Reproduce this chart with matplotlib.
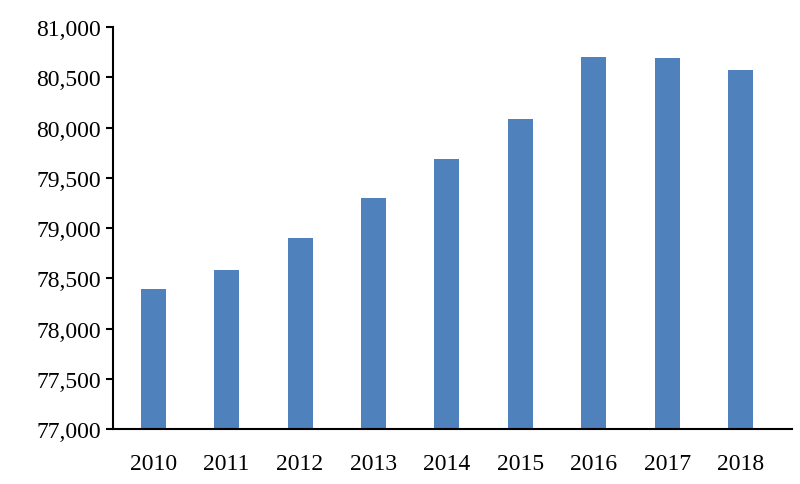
import matplotlib.pyplot as plt
from matplotlib.ticker import FuncFormatter

years = ["2010", "2011", "2012", "2013", "2014", "2015", "2016", "2017", "2018"]
values = [78390, 78580, 78900, 79300, 79690, 80090, 80700, 80690, 80570]

plt.rcParams['font.family'] = ['Liberation Serif', 'DejaVu Serif']
fig = plt.figure(figsize=(8, 4.85), dpi=100)
ax = fig.add_axes([0.141, 0.113, 0.849, 0.829])
ax.bar(range(len(years)), values, width=0.34, color="#4f81bd")
ax.set_ylim(77000, 81000)
ax.set_yticks(range(77000, 81001, 500))
ax.yaxis.set_major_formatter(FuncFormatter(lambda v, p: f"{int(v):,}"))
ax.set_xticks(range(len(years)))
ax.set_xticklabels(years)
ax.set_xlim(-0.55, len(years) - 0.3)
ax.tick_params(axis='both', labelsize=17)
ax.tick_params(axis='x', length=0, pad=17)
ax.tick_params(axis='y', direction='out', length=5, width=1.5)
for s in ["top", "right"]:
    ax.spines[s].set_visible(False)
for s in ["left", "bottom"]:
    ax.spines[s].set_linewidth(1.5)
fig.savefig("out.png", dpi=100)
